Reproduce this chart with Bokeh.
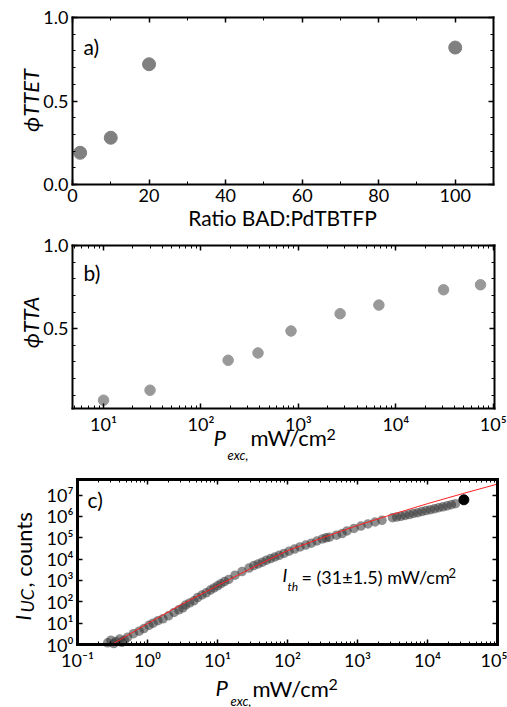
import math
from bokeh.plotting import figure
from bokeh.models import (Range1d, LinearAxis, LogAxis, FixedTicker, LogTicker,
                          CustomJSTickFormatter, BasicTickFormatter, Label)
from bokeh.layouts import column
from bokeh.embed import file_html
from bokeh.resources import INLINE

FONT = "Lato"

# ---------------- data ----------------
# panel a
ratio = [2, 10, 20, 100]
phi_ttet = [0.19, 0.28, 0.72, 0.82]

# panel b
p_exc_b = [10, 30, 190, 385, 840, 2680, 6700, 30900, 74000]
phi_tta = [0.07, 0.13, 0.31, 0.354, 0.486, 0.59, 0.642, 0.734, 0.764]

# panel c (measured points)
p_exc_c = [0.27, 0.30, 0.33, 0.355, 0.40, 0.43, 0.47, 0.52, 0.63, 0.76, 0.89,
           1.05, 1.2, 1.41, 1.66, 2.0, 2.4, 2.8, 3.2, 3.5, 4.0, 4.6, 5.2, 6.0,
           6.9, 7.9, 8.9, 10, 11.2, 12.6, 14.5, 17.8, 22.4, 28.2, 33, 38, 43.6,
           50, 57.5, 66, 76, 89, 105, 126, 151, 182, 219, 263, 316, 355, 398,
           501, 603, 708, 891, 1120, 1410, 1780, 2240, 3160, 3630, 4170, 4790,
           5500, 6310, 7240, 8320, 9550, 11000, 12600, 14500, 16600, 19100,
           21900, 25100]
i_uc = [1.2, 1.6, 1.1, 1.4, 1.8, 1.26, 1.6, 2.2, 3.2, 4.2, 5.6,
        7.9, 10, 13, 16, 22, 32, 42, 52, 71, 89, 112, 158, 209,
        263, 355, 447, 562, 708, 891, 1120, 1780, 2630, 3800, 5000, 6000, 7240,
        8900, 10700, 12600, 15100, 18600, 23400, 29500, 37200, 45700, 56200, 70800, 89100, 100000, 107000,
        132000, 158000, 209000, 275000, 355000, 447000, 550000, 661000, 871000, 933000, 1020000, 1120000,
        1230000, 1380000, 1510000, 1700000, 1900000, 2090000, 2290000, 2570000, 2820000, 3160000,
        3550000, 3980000]
p_exc_last = [33100]
i_uc_last = [6030000]

# panel c fit line
fit_p = [0.31, 1, 3.16, 10, 31.6, 100, 316, 1000, 3160, 10000, 31600, 100000]
fit_i = [1.0, 9.5, 79, 575, 3980, 25100, 100000, 380000, 1260000, 3980000, 11700000, 33100000]

# axis limits and ticks
a_xlim, a_ylim = (0, 110), (0, 1)
b_xlim, b_ylim = (4.8, 1.03e5), (0.02, 1.0)
c_xlim, c_ylim = (0.1, 1e5), (1, 5.4e7)
a_xticks = [0, 20, 40, 60, 80, 100]
a_xminor = [10, 30, 50, 70, 90, 110]
a_yticks = [0.0, 0.5, 1.0]
ab_yminor = [0.1, 0.2, 0.3, 0.4, 0.6, 0.7, 0.8, 0.9]
b_yticks = [0.5, 1.0]
c_yticks = [1, 10, 100, 1000, 10000, 100000, 1000000, 10000000]

SUP_CODE = """
const s = {"-":"\u207b","0":"\u2070","1":"\u00b9","2":"\u00b2","3":"\u00b3","4":"\u2074",
           "5":"\u2075","6":"\u2076","7":"\u2077","8":"\u2078","9":"\u2079"};
const e = Math.round(Math.log10(tick));
return "10" + String(e).split("").map(c => s[c]).join("");
"""


def sup():
    return CustomJSTickFormatter(code=SUP_CODE)


def blank():
    return CustomJSTickFormatter(code="return '';")


def ext(lo, hi, p_lo, p_hi, size, log):
    """Extend a range so that lo/hi land on pixel p_lo/p_hi of a canvas of length size."""
    f = (lambda v: math.log10(v)) if log else (lambda v: v)
    g = (lambda v: 10 ** v) if log else (lambda v: v)
    s = (f(hi) - f(lo)) / (p_hi - p_lo)
    return g(f(lo) - p_lo * s), g(f(hi) + (size - p_hi) * s)


def style_axis(ax, lw, labels=True):
    ax.axis_line_color = "black"
    ax.axis_line_width = lw
    ax.axis_line_cap = "square"
    ax.major_tick_in = 5
    ax.major_tick_out = 0
    ax.minor_tick_in = 3
    ax.minor_tick_out = 0
    ax.major_tick_line_color = "black"
    ax.major_tick_line_width = 1.5
    ax.minor_tick_line_color = "black"
    ax.minor_tick_line_width = 1
    ax.major_label_text_font = FONT
    ax.major_label_text_font_size = "18px"
    ax.major_label_text_color = "black"
    ax.major_label_standoff = 4
    if not labels:
        ax.formatter = blank()


def make_panel(h, xlim, ylim, box, xlog, ylog, xtick, ytick, xfmt, yfmt, lw):
    left, right, top, bottom = box
    xs, xe = ext(xlim[0], xlim[1], left, right, 507, xlog)
    ys, ye = ext(ylim[0], ylim[1], h - bottom, h - top, h, ylog)
    p = figure(width=507, height=h, x_range=Range1d(xs, xe), y_range=Range1d(ys, ye),
               x_axis_type="log" if xlog else "linear",
               y_axis_type="log" if ylog else "linear",
               x_axis_location=None, y_axis_location=None,
               output_backend="svg", toolbar_location=None,
               min_border=0, min_border_left=0, min_border_right=0,
               min_border_top=0, min_border_bottom=0)
    p.xgrid.visible = False
    p.ygrid.visible = False
    p.outline_line_color = None
    p.background_fill_color = "white"
    p.border_fill_color = "white"
    XA = LogAxis if xlog else LinearAxis
    YA = LogAxis if ylog else LinearAxis
    for loc, side, show in ((ylim[0], "below", True), (ylim[1], "above", False)):
        ax = XA(ticker=xtick, fixed_location=loc, bounds=xlim)
        if show:
            ax.formatter = xfmt
        style_axis(ax, lw, show)
        p.add_layout(ax, side)
    for loc, side, show in ((xlim[0], "left", True), (xlim[1], "right", False)):
        ax = YA(ticker=ytick, fixed_location=loc, bounds=ylim)
        if show:
            ax.formatter = yfmt
        style_axis(ax, lw, show)
        p.add_layout(ax, side)
    return p


def txt(p, x, y, dx, dy, text, size, italic=False, angle=0.0, align="left"):
    p.add_layout(Label(x=x, y=y, x_offset=dx, y_offset=dy, text=text,
                       text_font=FONT, text_font_size=f"{size}px",
                       text_font_style="italic" if italic else "normal",
                       angle=angle, text_align=align, text_baseline="middle",
                       text_color="black"))


# ---------------- panel a ----------------
pa = make_panel(232, a_xlim, a_ylim, (72, 493, 17, 184), False, False,
                FixedTicker(ticks=a_xticks, minor_ticks=a_xminor),
                FixedTicker(ticks=a_yticks, minor_ticks=ab_yminor),
                BasicTickFormatter(), CustomJSTickFormatter(code="return tick.toFixed(1);"), 2)
pa.scatter(ratio, phi_ttet, marker="circle", size=13, fill_color="#808080",
           line_color="#808080")
ax0, ay0 = a_xlim[0], a_ylim[0]
txt(pa, ax0, ay0, 11, 138, "a)", 21)
txt(pa, ax0, ay0, 210, -33, "Ratio BAD:PdTBTFP", 21, align="center")
txt(pa, ax0, ay0, -42, 84, "\u03d5TTET", 22, italic=True, angle=math.pi / 2,
    align="center")

# ---------------- panel b ----------------
pb = make_panel(235, b_xlim, b_ylim, (72, 494, 13, 176), True, False,
                LogTicker(num_minor_ticks=10),
                FixedTicker(ticks=b_yticks, minor_ticks=ab_yminor),
                sup(), CustomJSTickFormatter(code="return tick.toFixed(1);"), 2)
pb.scatter(p_exc_b, phi_tta, marker="circle", size=10.5, fill_color="#999999",
           line_color="#999999")
bx0, by0 = b_xlim[0], b_ylim[0]
txt(pb, bx0, by0, 11, 136, "b)", 21)
txt(pb, bx0, by0, -42, 86, "\u03d5TTA", 22, italic=True, angle=math.pi / 2,
    align="center")
txt(pb, bx0, by0, 141, -29, "P", 22, italic=True)
txt(pb, bx0, by0, 155, -46, "exc,", 13, italic=True)
txt(pb, bx0, by0, 178, -29, "mW/cm", 22)
txt(pb, bx0, by0, 254, -26, "2", 16)

# ---------------- panel c ----------------
pc = make_panel(240, c_xlim, c_ylim, (77, 497, 12, 177), True, True,
                LogTicker(num_minor_ticks=10),
                FixedTicker(ticks=c_yticks, minor_ticks=[]),
                sup(), sup(), 3)
pc.scatter(p_exc_c, i_uc, marker="circle", size=9.5, fill_color="#333333",
           fill_alpha=0.55, line_color=None)
pc.scatter(p_exc_last, i_uc_last, marker="circle", size=10, fill_color="black",
           line_color="black")
pc.line(fit_p, fit_i, line_color="#ff2020", line_width=1)
cx0, cy0 = c_xlim[0], c_ylim[0]
txt(pc, cx0, cy0, 10, 145, "c)", 21)
# y label pieces (rotated)
txt(pc, cx0, cy0, -55, 24, "I", 21, italic=True, angle=math.pi / 2)
txt(pc, cx0, cy0, -51, 32, "UC", 18, italic=True, angle=math.pi / 2)
txt(pc, cx0, cy0, -54, 57, ", counts", 22, angle=math.pi / 2)
# x label pieces
txt(pc, cx0, cy0, 138, -43, "P", 22, italic=True)
txt(pc, cx0, cy0, 153, -56, "exc,", 13, italic=True)
txt(pc, cx0, cy0, 175, -44, "mW/cm", 22)
txt(pc, cx0, cy0, 251, -40, "2", 16)
# annotation I_th
txt(pc, cx0, cy0, 205, 70, "I", 18, italic=True)
txt(pc, cx0, cy0, 210, 58, "th", 12, italic=True)
txt(pc, cx0, cy0, 224, 68, "= (31\u00b11.5) mW/cm", 18)
txt(pc, cx0, cy0, 371, 72, "2", 13)

layout = column(pa, pb, pc)
open("out.html", "w").write(file_html(layout, INLINE))
